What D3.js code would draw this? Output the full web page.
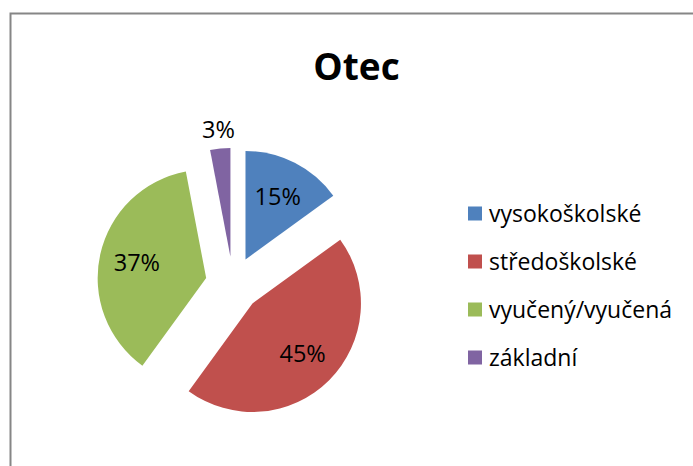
<!DOCTYPE html>
<html>
<head>
<meta charset="utf-8">
<script src="https://cdn.jsdelivr.net/npm/d3@7"></script>
<style>
  html, body { margin: 0; padding: 0; background: #fff; }
  svg { display: block; }
</style>
</head>
<body>
<div id="chart"></div>
<script>
// ---- data ----
const title = "Otec";
const categories = ["vysokoškolské", "středoškolské", "vyučený/vyučená", "základní"];
const values = [15, 45, 37, 3];
const colors = ["#4F81BD", "#C0504D", "#9BBB59", "#8064A2"];

// ---- layout ----
const W = 693, H = 466;
const cx = 233, cy = 284;
const radius = 108.5;
const explode = 27.5;
const labelR = 71;

const svg = d3.select("#chart").append("svg")
  .attr("width", W).attr("height", H);

svg.append("rect").attr("width", W).attr("height", H).attr("fill", "#fff");

// chart area border (extends beyond the right and bottom edges)
svg.append("rect")
  .attr("x", 10.5).attr("y", 13.5)
  .attr("width", W + 20).attr("height", H + 20)
  .attr("fill", "none")
  .attr("stroke", "#868686")
  .attr("stroke-width", 2);

// title
svg.append("text")
  .attr("x", 356.5).attr("y", 79.5)
  .attr("text-anchor", "middle")
  .attr("font-family", "'Open Sans', sans-serif")
  .attr("font-weight", "bold")
  .attr("font-size", 37)
  .attr("fill", "#000")
  .text(title);

const pie = d3.pie().sort(null).value(d => d.value).startAngle(0).endAngle(2 * Math.PI);
const data = categories.map((c, i) => ({ name: c, value: values[i], color: colors[i] }));
const arcs = pie(data);

const arc = d3.arc().innerRadius(0).outerRadius(radius);
const midArc = r => d3.arc().innerRadius(r).outerRadius(r);

const g = svg.append("g").attr("transform", `translate(${cx},${cy})`);

const slice = g.selectAll("g.slice").data(arcs).join("g")
  .attr("class", "slice")
  .attr("transform", d => {
    const [x, y] = midArc(explode).centroid(d);
    return `translate(${x},${y})`;
  });

slice.append("path")
  .attr("d", arc)
  .attr("fill", d => d.data.color);

slice.append("text")
  .attr("transform", d => {
    const frac = d.endAngle - d.startAngle;
    const r = frac < 0.25 ? radius + 19 : labelR;
    const [x, y] = midArc(r).centroid(d);
    return `translate(${x},${y})`;
  })
  .attr("text-anchor", "middle")
  .attr("dy", "0.36em")
  .attr("font-family", "'Open Sans', sans-serif")
  .attr("font-size", 23.5)
  .attr("fill", "#000")
  .text(d => d.data.value + "%");

// legend
const legend = svg.append("g").attr("transform", "translate(468,213.5)");
const item = legend.selectAll("g").data(data).join("g")
  .attr("transform", (d, i) => `translate(0,${i * 48})`);
item.append("rect")
  .attr("x", 0).attr("y", -7)
  .attr("width", 14).attr("height", 14)
  .attr("fill", d => d.color);
item.append("text")
  .attr("x", 21).attr("dy", "0.36em")
  .attr("font-family", "'Open Sans', sans-serif")
  .attr("font-size", 23)
  .attr("fill", "#000")
  .text(d => d.name);
</script>
</body>
</html>
